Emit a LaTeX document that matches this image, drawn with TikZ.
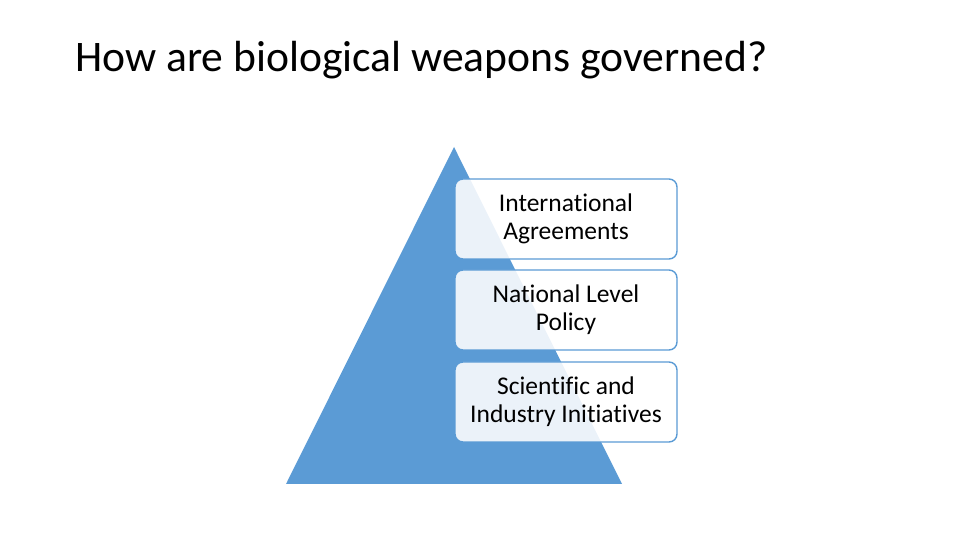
\documentclass[tikz,border=0pt]{standalone}
\usepackage{fontspec}
\setmainfont{Carlito}[Ligatures=NoCommon]
\definecolor{accent}{HTML}{5B9BD5}
\begin{document}
\begin{tikzpicture}[x=1pt,y=1pt,
  levelbox/.style={draw=accent, line width=1.4pt, fill=white, fill opacity=0.88, text opacity=1,
    rounded corners=8pt, minimum width=222pt, minimum height=80pt, align=center,
    font=\fontsize{25.5}{28}\selectfont, inner sep=0pt}]
\useasboundingbox (0,0) rectangle (960,540);
\node[anchor=base west, inner sep=0pt, font=\fontsize{43.6}{48}\selectfont] (title) at (75,468) {How are biological weapons governed?};
\fill[accent] (454,393) coordinate (apex) -- (286,56) coordinate (bl) -- (622,56) coordinate (br) -- cycle;
\node[levelbox] (l1) at (566,321) {International\\Agreements};
\node[levelbox] (l2) at (566,230) {National Level\\Policy};
\node[levelbox] (l3) at (566,138) {Scientific and\\Industry Initiatives};
\end{tikzpicture}
\end{document}
